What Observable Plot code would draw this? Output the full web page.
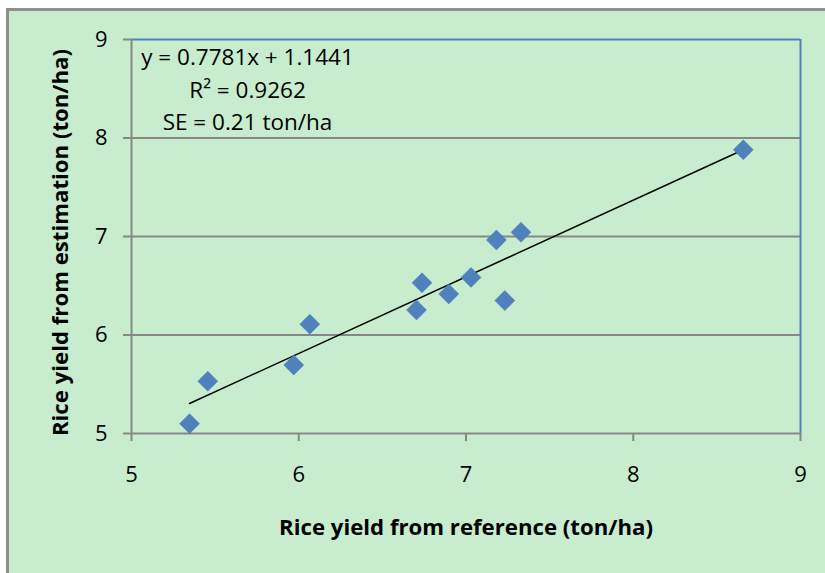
<!DOCTYPE html>
<html><head><meta charset="utf-8">
<script src="https://cdn.jsdelivr.net/npm/d3@7"></script>
<script src="https://cdn.jsdelivr.net/npm/@observablehq/plot@0.6"></script>
<style>
html,body{margin:0;padding:0;background:#fff;overflow:hidden}
#wrap{position:relative;width:825px;height:573px;overflow:hidden}
#bg{position:absolute;left:6px;top:8px;width:840px;height:600px;background:#C8ECCE;border-left:3px solid #8E8E8E;border-top:3px solid #8E8E8E}
#chart{position:absolute;left:0;top:0}
</style></head><body>
<div id="wrap"><div id="bg"></div><div id="chart"></div></div>
<script>
// Data
const refYield = [5.347, 5.456, 5.970, 6.066, 6.704, 6.737, 6.897, 7.030, 7.182, 7.232, 7.329, 8.658];
const estYield = [5.100, 5.530, 5.695, 6.110, 6.254, 6.530, 6.417, 6.585, 6.965, 6.349, 7.043, 7.880];
const xTicks = [5, 6, 7, 8, 9];
const yTicks = [5, 6, 7, 8, 9];
const gridValues = [6, 7, 8];
const slope = 0.7781;
const intercept = 1.1441;
const annotationLines = ["y = 0.7781x + 1.1441", "R\u00B2 = 0.9262", "SE = 0.21 ton/ha"];
const xTitle = "Rice yield from reference (ton/ha)";
const yTitle = "Rice yield from estimation (ton/ha)";

const points = refYield.map((x, i) => ({x, y: estYield[i]}));
const xExt = d3.extent(refYield);
const fitLine = xExt.map(x => ({x, y: slope * x + intercept}));

const diamond = {
  draw(context, size) {
    const h = Math.sqrt(size / Math.PI) * 1.25;
    context.moveTo(0, -h);
    context.lineTo(h, 0);
    context.lineTo(0, h);
    context.lineTo(-h, 0);
    context.closePath();
  }
};

const gray = "#878787";
const blue = "#4F81BD";

const chart = Plot.plot({
  width: 825,
  height: 573,
  marginLeft: 131,
  marginRight: 25,
  marginTop: 39,
  marginBottom: 140,
  style: {background: "transparent", fontFamily: "'Open Sans', sans-serif", fontSize: "22px", color: "black"},
  x: {domain: [5, 9]},
  y: {domain: [5, 9]},
  marks: [
    Plot.gridY(gridValues, {stroke: gray, strokeOpacity: 1, strokeWidth: 2}),
    Plot.ruleY([9], {stroke: blue, strokeWidth: 2}),
    Plot.ruleX([9], {stroke: blue, strokeWidth: 2}),
    Plot.ruleY([5], {stroke: gray, strokeWidth: 2}),
    Plot.ruleX([5], {stroke: gray, strokeWidth: 2}),
    Plot.axisX({ticks: xTicks, tickFormat: d3.format("d"), tickSize: 8, tickPadding: 25, stroke: gray, fill: "black", strokeWidth: 2, label: null, fontSize: 22}),
    Plot.axisY({ticks: yTicks, tickFormat: d3.format("d"), tickSize: 8, tickPadding: 16, stroke: gray, fill: "black", strokeWidth: 2, label: null, fontSize: 22}),
    Plot.line(fitLine, {x: "x", y: "y", stroke: "black", strokeWidth: 1.5}),
    Plot.dot(points, {x: "x", y: "y", symbol: diamond, r: 8, fill: blue, stroke: "#4A7EBB", strokeWidth: 0.5}),
    Plot.text([annotationLines.join("\n")], {frameAnchor: "top-left", dx: 116, dy: 48, textAnchor: "middle", lineAnchor: "middle", lineHeight: 1.44, fontSize: 22.5, fill: "black"}),
    Plot.text([xTitle], {frameAnchor: "bottom", dy: 101, textAnchor: "middle", fontSize: 22.2, fontWeight: "bold", fill: "black"}),
    Plot.text([yTitle], {frameAnchor: "left", dx: -71, dy: 6, rotate: -90, textAnchor: "middle", fontSize: 22.2, fontWeight: "bold", fill: "black"})
  ]
});
document.getElementById("chart").appendChild(chart);
</script>
</body></html>
